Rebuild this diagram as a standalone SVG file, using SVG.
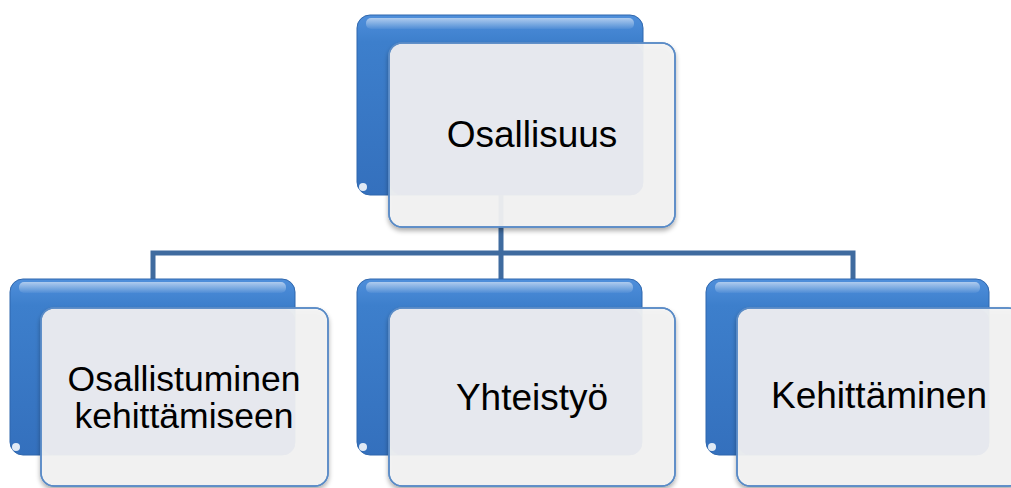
<svg xmlns="http://www.w3.org/2000/svg" width="1011" height="488" viewBox="0 0 1011 488">
<defs>
<linearGradient id="blue" x1="0" y1="0" x2="0" y2="1">
<stop offset="0" stop-color="#4f8fdb"/>
<stop offset="0.15" stop-color="#3d7fcc"/>
<stop offset="1" stop-color="#3470bd"/>
</linearGradient>
<linearGradient id="gloss" x1="0" y1="0" x2="0" y2="1">
<stop offset="0" stop-color="#ffffff" stop-opacity="0.55"/>
<stop offset="1" stop-color="#ffffff" stop-opacity="0.05"/>
</linearGradient>
<filter id="sh" x="-10%" y="-10%" width="120%" height="125%">
<feGaussianBlur in="SourceAlpha" stdDeviation="2.5"/>
<feOffset dx="0" dy="3" result="b"/>
<feComponentTransfer><feFuncA type="linear" slope="0.35"/></feComponentTransfer>
<feMerge><feMergeNode/><feMergeNode in="SourceGraphic"/></feMerge>
</filter>
</defs>
<style>
.back{fill:url(#blue);stroke:#2f67ad;stroke-width:1}
.gl{fill:url(#gloss)}
.spot{fill:#ffffff;fill-opacity:0.85}
.front{fill:#f3f3f3;fill-opacity:0.93;stroke:#5a8bc6;stroke-width:1.5}
.ov{fill:#e6e8ed;fill-opacity:0.9}
.edge{fill:none;stroke:#5a8bc6;stroke-width:1.5}
.lbl{font-family:"Liberation Sans",Arial,sans-serif;font-size:37px;fill:#000;text-anchor:middle}
.lbl2{font-size:35.5px}
.conn{fill:none;stroke:#3f6b9f;stroke-width:5;stroke-linejoin:miter}
</style>
<g id="connectors">
<path class="conn" d="M501,190 V253 M153,280 V253 H853 V280 M501,253 V280"/>
</g>
<g id="node-osallisuus">
<rect class="back" x="357" y="15" width="286" height="180" rx="13"/>
<rect class="gl" x="366" y="18" width="268" height="11" rx="5"/>
<circle class="spot" cx="363" cy="187" r="4"/>
<g filter="url(#sh)">
<rect class="front" x="389" y="43" width="286" height="184" rx="13"/>
</g>
<rect class="ov" x="390" y="44" width="253" height="151" rx="12"/>
<rect class="edge" x="389" y="43" width="286" height="184" rx="13"/>
<text class="lbl" x="532" y="147">Osallisuus</text>
</g>
<g id="node-osallistuminen">
<rect class="back" x="10" y="279" width="285" height="176" rx="13"/>
<rect class="gl" x="19" y="282" width="267" height="11" rx="5"/>
<circle class="spot" cx="16" cy="447" r="4"/>
<g filter="url(#sh)">
<rect class="front" x="41" y="308" width="287" height="178" rx="13"/>
</g>
<rect class="ov" x="42" y="309" width="253" height="146" rx="12"/>
<rect class="edge" x="41" y="308" width="287" height="178" rx="13"/>
<text class="lbl lbl2" x="184" y="391">Osallistuminen</text>
<text class="lbl lbl2" x="184" y="428">kehittämiseen</text>
</g>
<g id="node-yhteistyo">
<rect class="back" x="357" y="279" width="285" height="176" rx="13"/>
<rect class="gl" x="366" y="282" width="267" height="11" rx="5"/>
<circle class="spot" cx="363" cy="447" r="4"/>
<g filter="url(#sh)">
<rect class="front" x="389" y="308" width="286" height="178" rx="13"/>
</g>
<rect class="ov" x="390" y="309" width="252" height="146" rx="12"/>
<rect class="edge" x="389" y="308" width="286" height="178" rx="13"/>
<text class="lbl" x="532" y="410">Yhteistyö</text>
</g>
<g id="node-kehittaminen">
<rect class="back" x="706" y="279" width="283" height="176" rx="13"/>
<rect class="gl" x="715" y="282" width="265" height="11" rx="5"/>
<circle class="spot" cx="712" cy="447" r="4"/>
<g filter="url(#sh)">
<rect class="front" x="737" y="308" width="284" height="178" rx="13"/>
</g>
<rect class="ov" x="738" y="309" width="251" height="146" rx="12"/>
<rect class="edge" x="737" y="308" width="284" height="178" rx="13"/>
<text class="lbl" x="879" y="408">Kehittäminen</text>
</g>
</svg>
